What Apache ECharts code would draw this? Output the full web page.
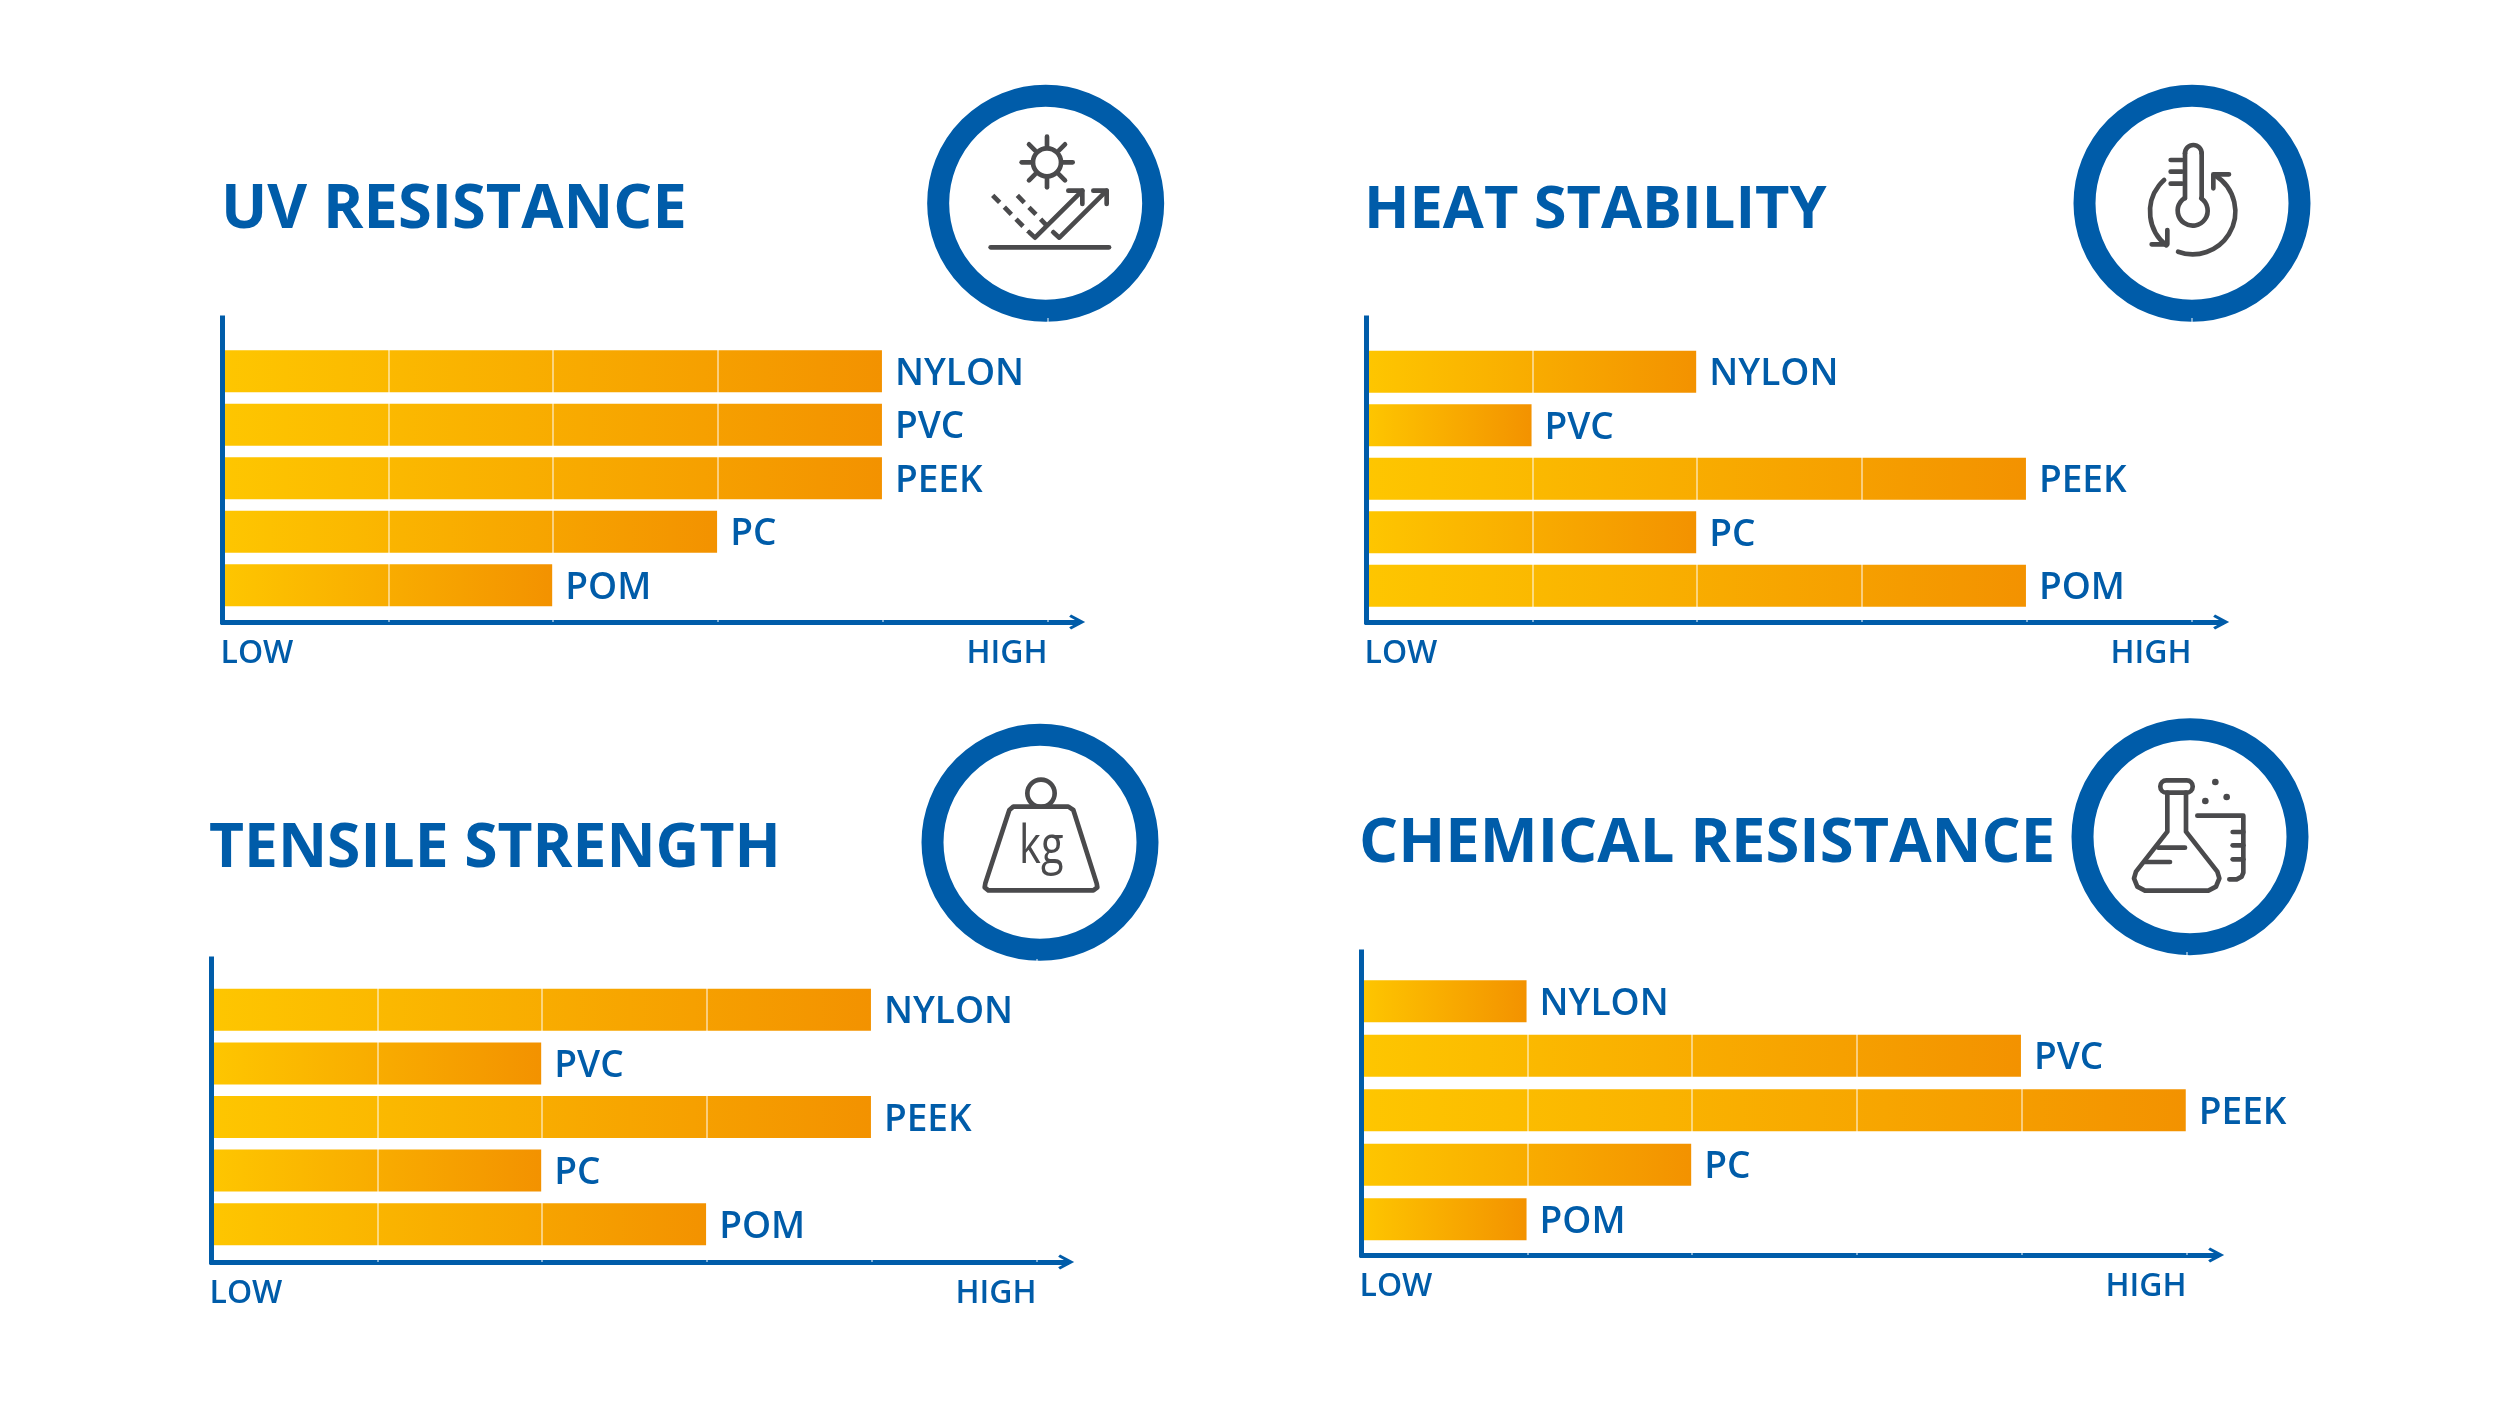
<!DOCTYPE html>
<html><head><meta charset="utf-8">
<style>html,body{margin:0;padding:0;background:#fff}#c{width:2500px;height:1407px}</style>
<script src="https://cdn.jsdelivr.net/npm/echarts@6/dist/echarts.min.js"></script>
</head><body><div id="c"></div>
<script>
// ---- data ----
const categories = ['NYLON','PVC','PEEK','PC','POM'];
const panelTitles = ['UV RESISTANCE','HEAT STABILITY','TENSILE STRENGTH','CHEMICAL RESISTANCE'];
const uvValues = [4,4,4,3,2];
const heatValues = [2,1,4,2,4];
const tensileValues = [4,2,4,2,3];
const chemicalValues = [1,4,5,2,1];
const xTickValues = [1,2,3,4,5];
const lowLabel = 'LOW', highLabel = 'HIGH';

// ---- layout / style ----
const BLUE='#005CA9', GREY='#4A4A4C', FONT='"Open Sans"';
const UNIT=164.8, XMAX=5.18;
const panels=[
 {values:uvValues,      left:225, top:318, axisY:622, barTop:344.5, band:53.5, titleX:221, titleY:211, titleSize:61.3},
 {values:heatValues,    left:1369,top:318, axisY:622, barTop:345,   band:53.5, titleX:1364,titleY:211, titleSize:59.5},
 {values:tensileValues, left:214, top:959, axisY:1262,barTop:983,   band:53.6, titleX:209, titleY:850, titleSize:60.5},
 {values:chemicalValues,left:1364,top:952, axisY:1255,barTop:974,   band:54.5, titleX:1359,titleY:844, titleSize:61.5}
];
const grad={type:'linear',x:0,y:0,x2:1,y2:0,colorStops:[{offset:0,color:'#FEC600'},{offset:1,color:'#F39200'}]};

const grid=[],xAxis=[],yAxis=[],series=[],title=[];
panels.forEach((p,i)=>{
  const a=i*2,b=i*2+1,w=UNIT*XMAX;
  grid.push({left:p.left-1.5,top:p.top,width:w,height:p.axisY-p.top});
  grid.push({left:p.left-2.25,top:p.barTop,width:w,height:p.band*5});
  xAxis.push({gridIndex:a,type:'value',min:0,max:XMAX,interval:1,position:'bottom',
    axisLine:{show:true,onZero:false,lineStyle:{color:BLUE,width:5,cap:'square'},
      symbol:['none','path://M0 15 L8 0 L16 15 L13.5 17 L8 7 L2.5 17 Z'],symbolSize:[18,16],symbolOffset:[0,0]},
    axisTick:{show:false},splitLine:{show:false},
    axisLabel:{show:true,customValues:[0,5],margin:16,color:BLUE,fontFamily:FONT,fontWeight:600,fontSize:32,
      padding:[0,0,0,-3],alignMinLabel:'left',alignMaxLabel:'right',
      formatter:v=>v===0?lowLabel:highLabel}});
  yAxis.push({gridIndex:a,type:'value',min:0,max:1,position:'left',offset:1,z:3,
    axisLine:{show:true,onZero:false,lineStyle:{color:BLUE,width:5,cap:'square'}},
    axisTick:{show:false},axisLabel:{show:false},splitLine:{show:false}});
  xAxis.push({gridIndex:b,type:'value',min:0,max:XMAX,show:false,splitLine:{show:false}});
  yAxis.push({gridIndex:b,type:'category',inverse:true,data:categories,show:false});
  series.push({type:'bar',name:panelTitles[i],xAxisIndex:b,yAxisIndex:b,data:p.values,barWidth:42,
    itemStyle:{color:grad},z:2,silent:true,
    label:{show:true,position:'right',distance:13,offset:[0,3],formatter:'{b}',color:BLUE,fontFamily:FONT,fontWeight:600,fontSize:37}});
  series.push({type:'line',xAxisIndex:a,yAxisIndex:a,data:[],z:5,silent:true,
    markLine:{silent:true,symbol:'none',animation:false,z:6,label:{show:false},
      lineStyle:{color:'rgba(255,255,255,0.65)',width:1.5,type:'solid'},
      data:xTickValues.map(v=>({xAxis:v}))}});
  title.push({text:panelTitles[i],left:p.titleX,top:p.titleY-41,padding:0,
    textStyle:{color:BLUE,fontFamily:FONT,fontWeight:700,fontSize:p.titleSize,lineHeight:82}});
});

// ---- icons (coordinates are in 3x crop space of each icon) ----
const IW=14;
const st={stroke:GREY,lineWidth:IW,fill:'none',lineCap:'round',lineJoin:'round'};
const L=(...pts)=>({type:'polyline',shape:{points:pts},style:st});
const ARC=(cx,cy,r,s,e)=>({type:'arc',shape:{cx,cy,r,startAngle:s*Math.PI/180,endAngle:e*Math.PI/180,clockwise:true},style:st});
const C=(cx,cy,r)=>({type:'circle',shape:{cx,cy,r},style:{...st,fill:'#fff'}});
const D=(cx,cy,r)=>({type:'circle',shape:{cx,cy,r},style:{fill:GREY}});
const RING=(cx,cy)=>({type:'circle',shape:{cx,cy,r:322.5},style:{fill:'#fff',stroke:BLUE,lineWidth:66}});
const G=(x,y,children)=>({type:'group',x,y,scaleX:1/3,scaleY:1/3,silent:true,children});

const sunRays=[[381,200,381,238],[381,316,381,352],[305,277,343,277],[420,277,458,277],
  [327,223,345,241],[417,313,435,331],[435,223,417,241],[345,313,327,331]].map(r=>L([r[0],r[1]],[r[2],r[3]]));
const dashed=Object.assign({},st,{lineDash:[30,20],lineCap:'butt'});
const uvIcon=G(920,70,[RING(377,400),...sunRays,C(381,277,42),
  {type:'polyline',shape:{points:[[218,376],[325,485]]},style:dashed},
  {type:'polyline',shape:{points:[[292,376],[398,485]]},style:dashed},
  L([328,487],[345,503],[487,362]),L([445,362],[487,362],[487,402]),
  L([400,487],[418,503],[560,362]),L([520,362],[560,362],[560,402]),
  L([212,532],[567,532])]);
const heatIcon=G(2050,60,[RING(426,430),
  ARC(430,280,25,180,360),L([405,280],[405,415]),L([455,280],[455,415]),
  ARC(428,452,45,-55,235),
  L([362,300],[396,300]),L([362,335],[396,335]),L([362,371],[396,371]),
  ARC(428,455,128,-58,110),L([537,343],[490,343],[490,385]),
  ARC(428,455,128,128,228),L([305,553],[352,553],[352,510])]);
const kgIcon=G(900,710,[RING(420,397),C(423,250,41),
  {type:'polygon',shape:{points:[[340,290],[505,290],[520,300],[590,520],[592,532],[580,541],[265,541],[254,532],[256,520],[328,300]]},style:{...st,fill:'#fff'}},
  {type:'text',x:424,y:412,scaleX:0.78,style:{text:'kg',fill:GREY,fontFamily:FONT,fontWeight:500,fontSize:160,textAlign:'center',textVerticalAlign:'middle'}}]);
const flaskIcon=G(2060,700,[RING(390,410),
  {type:'rect',shape:{x:301,y:241,width:97,height:37,r:18},style:st},
  L([322,278],[322,395],[228,515],[222,535],[232,560],[255,572],[445,572],[468,560],[478,535],[472,515],[378,395],[378,278]),
  L([295,443],[375,443]),L([255,486],[330,486]),
  D(466,246,10),D(436,303,10),D(500,291,10),
  L([412,347],[550,347],[550,518],[545,530],[530,538],[508,538]),
  L([518,396],[550,396]),L([518,436],[550,436]),L([518,478],[550,478])]);

const chart=echarts.init(document.getElementById('c'),null,{renderer:'canvas'});
chart.setOption({animation:false,backgroundColor:'#fff',title,grid,xAxis,yAxis,series,
  graphic:{elements:[uvIcon,heatIcon,kgIcon,flaskIcon]}});
</script></body></html>
